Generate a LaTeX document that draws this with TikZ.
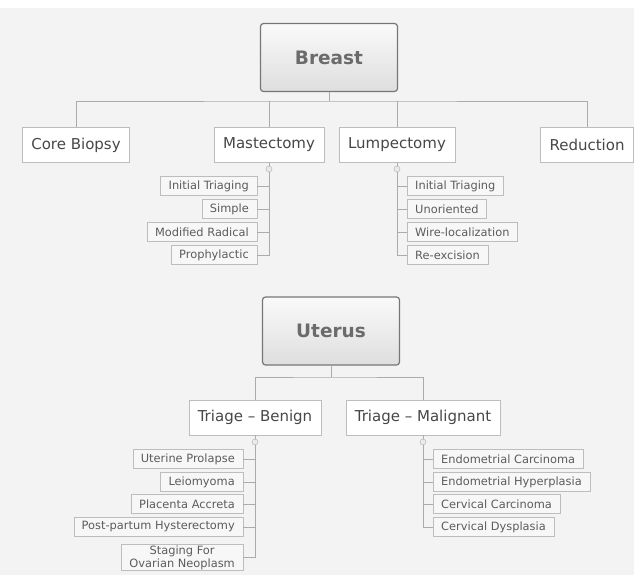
\documentclass[tikz,border=0pt]{standalone}
\usepackage{fontspec}
\setmainfont{DejaVu Sans}
\usepackage{tikz}
\usetikzlibrary{positioning,calc}
\definecolor{PageGray}{HTML}{F3F3F3}
\definecolor{EdgeGray}{HTML}{BDBDBD}
\definecolor{LineGray}{HTML}{ABABAB}
\definecolor{InkGray}{HTML}{474747}
\definecolor{RootEdge}{HTML}{767676}

\begin{document}
\begin{tikzpicture}[
  x=1pt,y=-1pt,
  root/.style={draw=RootEdge,line width=1.2pt,rounded corners=3pt,top color=white!98!black,bottom color=white!87!black,
    minimum width=137pt,minimum height=68pt,font=\fontsize{18.5}{20}\selectfont\bfseries,text=black!58},
  topic/.style={draw=EdgeGray,fill=white,minimum height=35pt,inner xsep=9pt,font=\fontsize{15}{17}\selectfont,text=InkGray},
  leaf/.style={draw=EdgeGray,fill=white!97!black,minimum height=19pt,inner xsep=8pt,inner ysep=1pt,font=\fontsize{11.4}{13}\selectfont,text=black!64,align=center},
  knob/.style={circle,draw=LineGray,fill=white!92!black,inner sep=0pt,minimum size=6pt},
  link/.style={draw=LineGray,line width=0.8pt}
]
\fill[white] (0,0) rectangle (634,8);
\fill[PageGray] (0,8) rectangle (634,575);
\useasboundingbox (0,0) rectangle (634,575);

% breast tree
\node[root] (breast) at (329,57.5) {Breast};
\node[topic] (core) at (76,145) {Core Biopsy};
\node[topic] (mast) at (269,145) {Mastectomy};
\node[topic] (lump) at (397,145) {Lumpectomy};
\node[topic] (reduc) at (587,145) {Reduction};
\coordinate (bbus) at (329,101);
\draw[link] (breast.south) -- (bbus);
\draw[link] (core.north) |- (bbus) -| (reduc.north);
\draw[link] (mast.north) -- (mast.north |- bbus);
\draw[link] (lump.north) -- (lump.north |- bbus);

\node[knob] (mknob) at (269,169) {};
\node[leaf,anchor=east] (m1) at (257,186) {Initial Triaging};
\node[leaf,anchor=east] (m2) at (257,209) {Simple};
\node[leaf,anchor=east] (m3) at (257,232) {Modified Radical};
\node[leaf,anchor=east] (m4) at (257,255) {Prophylactic};
\draw[link] (mast.south) -- (mknob);
\foreach \k in {m1,m2,m3,m4} \draw[link] (mknob.south) |- (\k.east);

\node[knob] (lknob) at (397,169) {};
\node[leaf,anchor=west] (l1) at (407,186) {Initial Triaging};
\node[leaf,anchor=west] (l2) at (407,209) {Unoriented};
\node[leaf,anchor=west] (l3) at (407,232) {Wire-localization};
\node[leaf,anchor=west] (l4) at (407,255) {Re-excision};
\draw[link] (lump.south) -- (lknob);
\foreach \k in {l1,l2,l3,l4} \draw[link] (lknob.south) |- (\k.west);

% uterus tree
\node[root] (uterus) at (331,331) {Uterus};
\node[topic] (benign) at (255,417.5) {Triage -- Benign};
\node[topic] (malig) at (423,417.5) {Triage -- Malignant};
\coordinate (ubus) at (331,377);
\draw[link] (uterus.south) -- (ubus);
\draw[link] (benign.north) |- (ubus) -| (malig.north);

\node[knob] (bknob) at (255,442) {};
\node[leaf,anchor=east] (b1) at (243,459) {Uterine Prolapse};
\node[leaf,anchor=east] (b2) at (243,482) {Leiomyoma};
\node[leaf,anchor=east] (b3) at (243,504) {Placenta Accreta};
\node[leaf,anchor=east] (b4) at (243,527) {Post-partum Hysterectomy};
\node[leaf,anchor=east] (b5) at (243,557.5) {Staging For\\Ovarian Neoplasm};
\draw[link] (benign.south) -- (bknob);
\foreach \k in {b1,b2,b3,b4,b5} \draw[link] (bknob.south) |- (\k.east);

\node[knob] (cknob) at (423,442) {};
\node[leaf,anchor=west] (c1) at (433,459) {Endometrial Carcinoma};
\node[leaf,anchor=west] (c2) at (433,482) {Endometrial Hyperplasia};
\node[leaf,anchor=west] (c3) at (433,504) {Cervical Carcinoma};
\node[leaf,anchor=west] (c4) at (433,527) {Cervical Dysplasia};
\draw[link] (malig.south) -- (cknob);
\foreach \k in {c1,c2,c3,c4} \draw[link] (cknob.south) |- (\k.west);
\end{tikzpicture}
\end{document}
